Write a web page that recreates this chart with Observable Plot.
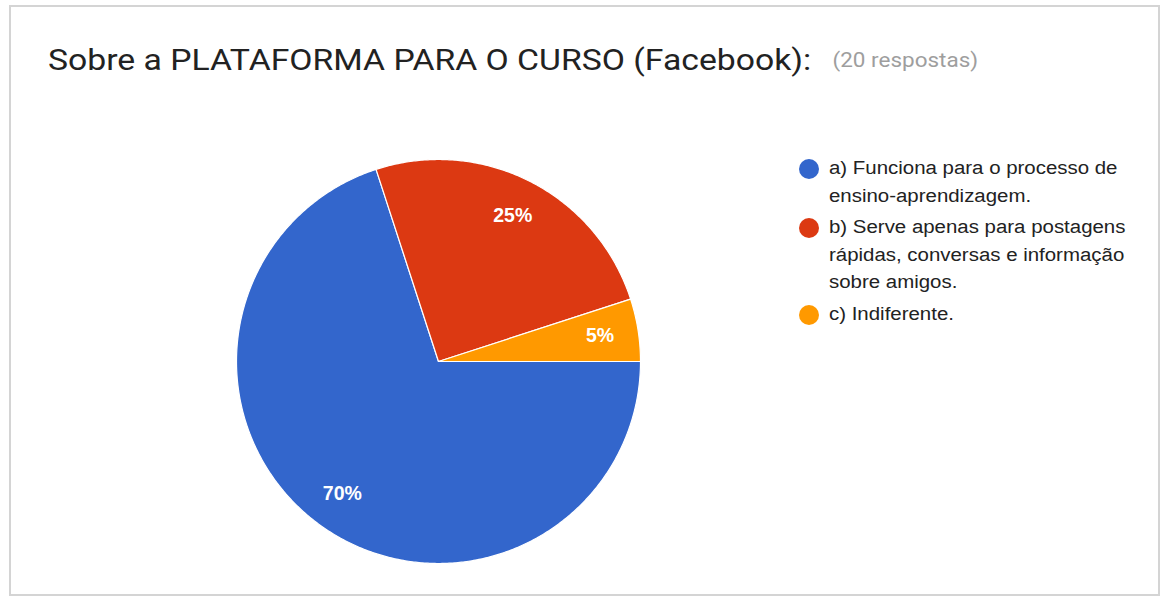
<!DOCTYPE html>
<html>
<head>
<meta charset="utf-8">
<script src="https://cdn.jsdelivr.net/npm/d3@7"></script>
<script src="https://cdn.jsdelivr.net/npm/@observablehq/plot@0.6"></script>
<style>
  html, body { margin: 0; padding: 0; background: #ffffff; }
  #page { position: relative; width: 1160px; height: 596px; overflow: hidden; background: #fff; }
  #frame { position: absolute; left: 9px; top: 5px; width: 1147px; height: 587px;
           border: 2px solid #d4d4d4; box-sizing: content-box; }
  #title { position: absolute; left: 48px; top: 42px; font-family: Roboto, sans-serif; font-size: 30px;
           color: #222; white-space: nowrap; line-height: 36px;
           transform: scaleX(1.124); transform-origin: left center; }
  #title .sub { font-size: 20px; color: #9e9e9e; margin-left: 19px; position: relative; top: -3px; }
  #chart { position: absolute; left: 218px; top: 141px; }
  #legend { position: absolute; left: 799px; top: 155px; font-family: "Liberation Sans", Arial, sans-serif;
            font-size: 18px; color: #222; }
  .item { display: flex; align-items: flex-start; margin-bottom: 4px; }
  .dot { width: 20px; height: 20px; border-radius: 50%; flex: none; margin-top: 4px; margin-right: 10px; }
  .txt { line-height: 27.5px; white-space: nowrap; transform: scaleX(1.135); transform-origin: left center; }
</style>
</head>
<body>
<div id="page">
  <div id="frame"></div>
  <div id="title"></div>
  <div id="chart"></div>
  <div id="legend"></div>
</div>
<script>
const titleText = "Sobre a PLATAFORMA PARA O CURSO (Facebook):";
const subtitleText = "(20 respostas)";
const categories = ["a", "b", "c"];
const counts = [14, 5, 1];
const colors = ["#3366cc", "#dc3912", "#ff9900"];
const legendLines = [
  ["a) Funciona para o processo de", "ensino-aprendizagem."],
  ["b) Serve apenas para postagens", "rápidas, conversas e informação", "sobre amigos."],
  ["c) Indiferente."]
];

document.getElementById("title").innerHTML =
  titleText + '<span class="sub">' + subtitleText + '</span>';

const total = d3.sum(counts);
const pieData = categories.map((k, i) => ({key: k, value: counts[i]}));
const arcs = d3.pie().sort(null).value(d => d.value)
  .startAngle(Math.PI / 2).endAngle(Math.PI / 2 + 2 * Math.PI)(pieData);

// polygon vertices for each slice (unit circle, angle clockwise from north)
const pts = [];
arcs.forEach(a => {
  pts.push({key: a.data.key, x: 0, y: 0});
  const n = Math.max(2, Math.ceil((a.endAngle - a.startAngle) / (Math.PI / 360)));
  for (let j = 0; j <= n; j++) {
    const t = a.startAngle + (a.endAngle - a.startAngle) * j / n;
    pts.push({key: a.data.key, x: Math.sin(t), y: Math.cos(t)});
  }
  pts.push({key: a.data.key, x: 0, y: 0});
});
const labelPts = arcs.map(a => {
  const m = (a.startAngle + a.endAngle) / 2;
  return {x: 0.81 * Math.sin(m), y: 0.81 * Math.cos(m),
          text: Math.round(a.data.value / total * 100) + "%"};
});

const lim = 220 / 202;
const chart = Plot.plot({
  width: 440, height: 440,
  margin: 0,
  x: {domain: [-lim, lim], axis: null},
  y: {domain: [-lim, lim], axis: null},
  color: {domain: categories, range: colors},
  marks: [
    Plot.line(pts, {x: "x", y: "y", z: "key", fill: "key", stroke: "white", strokeWidth: 1.2, strokeLinejoin: "round"}),
    Plot.text(labelPts, {x: "x", y: "y", text: "text", fill: "white", fontSize: 19.5, fontWeight: "bold",
      fontFamily: "Liberation Sans, Arial, sans-serif"})
  ]
});
document.getElementById("chart").appendChild(chart);

const legend = document.getElementById("legend");
categories.forEach((k, i) => {
  const item = document.createElement("div");
  item.className = "item";
  item.innerHTML = '<div class="dot" style="background:' + colors[i] + '"></div><div class="txt">' +
    legendLines[i].join("<br>") + '</div>';
  legend.appendChild(item);
});
</script>
</body>
</html>
